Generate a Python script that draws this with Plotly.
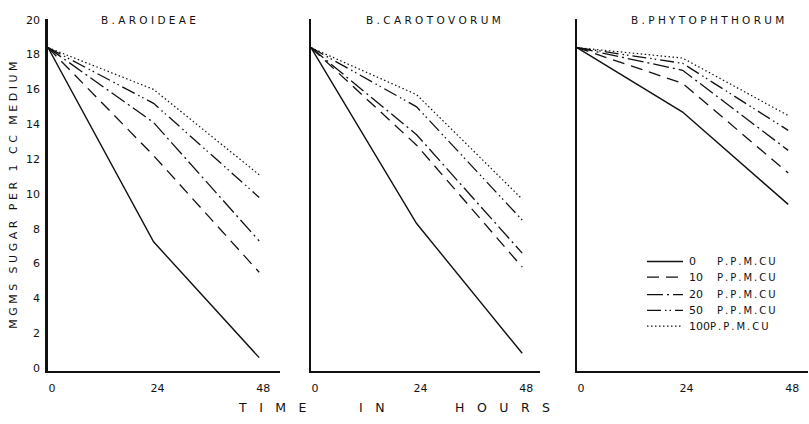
import plotly.graph_objects as go

# Sugar remaining (mg per 1 cc medium) at 0, 24 and 48 hours,
# one row per copper concentration in the order of `concentrations`.
hours = [0, 24, 48]
concentrations = ["0", "10", "20", "50", "100"]

aroideae = [
    [18.4, 7.25, 0.6],
    [18.4, 12.2, 5.5],
    [18.4, 14.1, 7.3],
    [18.4, 15.2, 9.8],
    [18.4, 16.0, 11.1],
]
carotovorum = [
    [18.4, 8.3, 0.85],
    [18.4, 12.8, 5.8],
    [18.4, 13.4, 6.6],
    [18.4, 15.0, 8.5],
    [18.4, 15.7, 9.7],
]
phytophthorum = [
    [18.4, 14.7, 9.4],
    [18.4, 16.35, 11.2],
    [18.4, 17.1, 12.5],
    [18.4, 17.5, 13.65],
    [18.4, 17.8, 14.5],
]

panel_titles = ["B. AROIDEAE", "B. CAROTOVORUM", "B. PHYTOPHTHORUM"]
y_ticks = [0, 2, 4, 6, 8, 10, 12, 14, 16, 18, 20]
x_ticks = [0, 24, 48]

W, H = 809, 424
INK = "#111111"
FONT = "DejaVu Sans"

# dash pattern and width for each concentration
dashes = ["solid", "12px,7px", "16px,4px,2px,4px", "14px,4px,1.5px,3px,1.5px,4px", "1.5px,2.5px"]
widths = [1.4, 1.3, 1.3, 1.3, 1.2]


def px_x(p):
    return p / W


def px_y(p):
    return 1 - p / H


def spaced(s, sep=" ", word_sep="   "):
    return word_sep.join(sep.join(w) for w in s.split(" "))


def label(text, cx, cy, size, xanchor="center", angle=0, family=FONT):
    fig.add_annotation(
        x=px_x(cx), y=px_y(cy), xref="paper", yref="paper",
        text=text, showarrow=False, xanchor=xanchor, yanchor="middle",
        textangle=angle, font=dict(family=family, size=size, color=INK),
    )


panels = [aroideae, carotovorum, phytophthorum]
# pixel extent of each panel's x axis
x_extent = [(48, 280), (311, 540), (577, 808)]
px_per_hour = 4.4
y_bottom_px, y_top_px = 374, 14
y_range = [-0.17, 20.06]

fig = go.Figure()

for i, (series, (x0, x1)) in enumerate(zip(panels, x_extent)):
    xa = "x" if i == 0 else f"x{i + 1}"
    ya = "y" if i == 0 else f"y{i + 1}"
    for k, vals in enumerate(series):
        fig.add_trace(go.Scatter(
            x=hours, y=vals, mode="lines", xaxis=xa, yaxis=ya,
            line=dict(color=INK, width=widths[k], dash=dashes[k]),
            showlegend=False, hoverinfo="skip",
        ))
    xkey = "xaxis" if i == 0 else f"xaxis{i + 1}"
    ykey = "yaxis" if i == 0 else f"yaxis{i + 1}"
    fig.update_layout({
        xkey: dict(
            domain=[px_x(x0), px_x(x1)],
            range=[0, (x1 - x0) / px_per_hour],
            anchor=ya, showgrid=False, zeroline=False,
            showline=True, linecolor=INK, linewidth=2,
            ticks="", tickvals=x_ticks, ticktext=["0", "24", "48"],
            ticklabelshift=4, ticklabelstandoff=6,
            tickfont=dict(family=FONT, size=11, color=INK),
        ),
        ykey: dict(
            domain=[px_y(y_bottom_px), px_y(y_top_px)],
            range=y_range, anchor=xa, showgrid=False, zeroline=False,
            showline=True, linecolor=INK, linewidth=2.5 if i == 0 else 1.8,
            ticks="", tickvals=y_ticks, showticklabels=(i == 0),
            ticklabelstandoff=3,
            tickfont=dict(family=FONT, size=11, color=INK),
        ),
    })

# panel headings
title_pos = [(148, 15), (433, 15), (707, 15)]
for t, (cx, cy) in zip(panel_titles, title_pos):
    label(spaced(t, " ", " "), cx, cy, 10.5)

# x axis title, one word at a time
for word, cx in [("TIME", 272), ("IN", 372), ("HOURS", 502)]:
    label("\u2003".join(word), cx, 411, 12.5)

# y axis title
label(spaced("MGMS SUGAR PER 1 CC MEDIUM", " ", "   "), 14, 195, 11, angle=-90)

# key inside the third panel
key_rows = [262, 278, 296, 312, 328]
key_unit_x = [715, 715, 715, 715, 708]
for k, (conc, ry) in enumerate(zip(concentrations, key_rows)):
    fig.add_shape(
        type="line", xref="paper", yref="paper",
        x0=px_x(647), x1=px_x(683), y0=px_y(ry), y1=px_y(ry),
        line=dict(color=INK, width=widths[k], dash=dashes[k]),
    )
    label(conc, 687, ry, 11, xanchor="left")
    label("\u2009".join("P.P.M.CU"), key_unit_x[k], ry, 10, xanchor="left")

fig.update_layout(
    width=W, height=H,
    margin=dict(l=0, r=0, t=0, b=0),
    paper_bgcolor="white", plot_bgcolor="white",
    showlegend=False,
)

fig.write_html("out.html")
